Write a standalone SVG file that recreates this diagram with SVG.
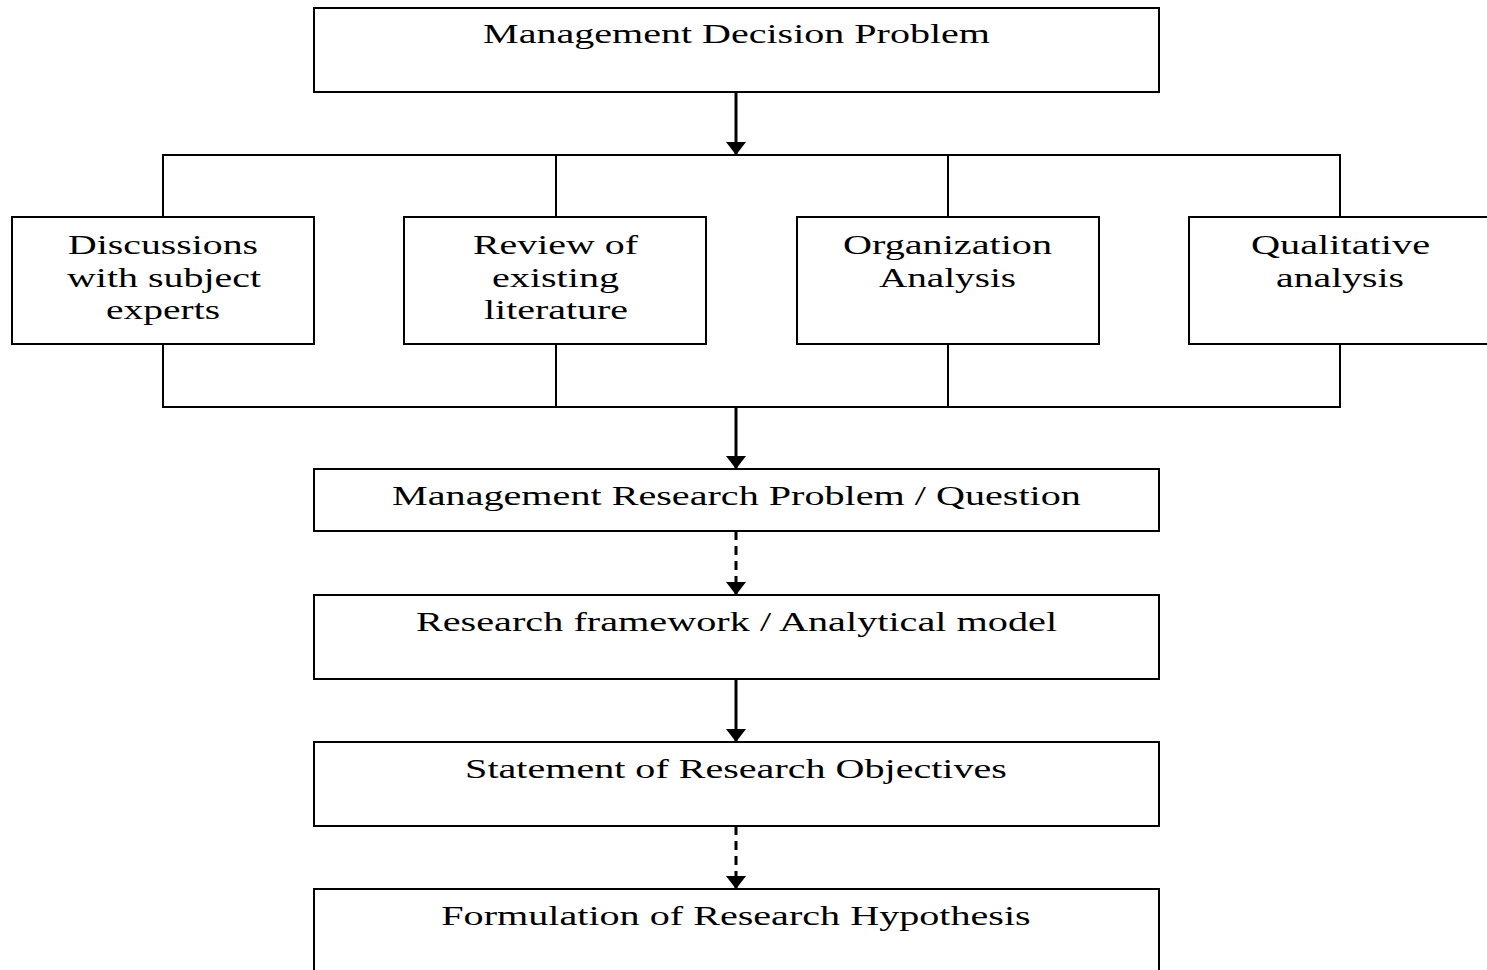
<svg xmlns="http://www.w3.org/2000/svg" width="1487" height="970" viewBox="0 0 1487 970">
  <defs>
    <marker id="arrowhead" viewBox="0 0 13 20" refX="13" refY="10" markerWidth="13" markerHeight="20" markerUnits="userSpaceOnUse" orient="auto">
      <path d="M0,0 L13,10 L0,20 Z" fill="#000"/>
    </marker>
    <style>
      .box { fill: #fff; stroke: #000; stroke-width: 2; }
      .link { fill: none; stroke: #000; stroke-width: 2; }
      .arrow { fill: none; stroke: #000; stroke-width: 3; marker-end: url(#arrowhead); }
      .dashed { stroke-dasharray: 9 6; }
      .label { font-family: "Liberation Serif", "Times New Roman", serif; font-size: 28px; fill: #000; text-anchor: middle; }
    </style>
  </defs>

  <rect width="1487" height="970" fill="#fff"/>

  <!-- connectors -->
  <g id="connectors">
    <path class="arrow" d="M736,92 V155"/>
    <path class="link" d="M163,217 V155 H1340 V217 M556,155 V217 M948,155 V217"/>
    <path class="link" d="M163,344 V407 H1340 V344 M556,344 V407 M948,344 V407"/>
    <path class="arrow" d="M736,407 V469"/>
    <path class="arrow dashed" d="M736,531 V595"/>
    <path class="arrow" d="M736,679 V742"/>
    <path class="arrow dashed" d="M736,826 V889"/>
  </g>

  <!-- labels use a wide serif: glyphs scaled 1.4x horizontally -->
  <g id="management-decision-problem">
    <rect class="box" x="314" y="8" width="845" height="84"/>
    <text class="label" transform="translate(736.5,43) scale(1.4,1)" textLength="362" lengthAdjust="spacingAndGlyphs">Management Decision Problem</text>
  </g>

  <g id="discussions">
    <rect class="box" x="12" y="217" width="302" height="127"/>
    <text class="label" transform="translate(163,254) scale(1.4,1)" textLength="135.7" lengthAdjust="spacingAndGlyphs">Discussions</text>
    <text class="label" transform="translate(164,287) scale(1.4,1)" textLength="138.6" lengthAdjust="spacingAndGlyphs">with subject</text>
    <text class="label" transform="translate(163,319) scale(1.4,1)" textLength="81.4" lengthAdjust="spacingAndGlyphs">experts</text>
  </g>

  <g id="literature-review">
    <rect class="box" x="404" y="217" width="302" height="127"/>
    <text class="label" transform="translate(555.5,254) scale(1.4,1)" textLength="117.9" lengthAdjust="spacingAndGlyphs">Review of</text>
    <text class="label" transform="translate(555.5,287) scale(1.4,1)" textLength="90.7" lengthAdjust="spacingAndGlyphs">existing</text>
    <text class="label" transform="translate(556,319) scale(1.4,1)" textLength="102.9" lengthAdjust="spacingAndGlyphs">literature</text>
  </g>

  <g id="organization-analysis">
    <rect class="box" x="797" y="217" width="302" height="127"/>
    <text class="label" transform="translate(947.5,254) scale(1.4,1)" textLength="149.3" lengthAdjust="spacingAndGlyphs">Organization</text>
    <text class="label" transform="translate(947.5,287) scale(1.4,1)" textLength="97.9" lengthAdjust="spacingAndGlyphs">Analysis</text>
  </g>

  <g id="qualitative-analysis">
    <rect class="box" x="1189" y="217" width="300" height="127"/>
    <text class="label" transform="translate(1340.5,254) scale(1.4,1)" textLength="127.9" lengthAdjust="spacingAndGlyphs">Qualitative</text>
    <text class="label" transform="translate(1340,287) scale(1.4,1)" textLength="91.4" lengthAdjust="spacingAndGlyphs">analysis</text>
  </g>

  <g id="management-research-problem">
    <rect class="box" x="314" y="469" width="845" height="62"/>
    <text class="label" transform="translate(736.5,505) scale(1.4,1)" textLength="492" lengthAdjust="spacingAndGlyphs">Management Research Problem / Question</text>
  </g>

  <g id="research-framework">
    <rect class="box" x="314" y="595" width="845" height="84"/>
    <text class="label" transform="translate(736.5,631) scale(1.4,1)" textLength="458" lengthAdjust="spacingAndGlyphs">Research framework / Analytical model</text>
  </g>

  <g id="research-objectives">
    <rect class="box" x="314" y="742" width="845" height="84"/>
    <text class="label" transform="translate(736,778) scale(1.4,1)" textLength="387" lengthAdjust="spacingAndGlyphs">Statement of Research Objectives</text>
  </g>

  <g id="research-hypothesis">
    <rect class="box" x="314" y="889" width="845" height="100"/>
    <text class="label" transform="translate(736,925) scale(1.4,1)" textLength="421" lengthAdjust="spacingAndGlyphs">Formulation of Research Hypothesis</text>
  </g>
</svg>
